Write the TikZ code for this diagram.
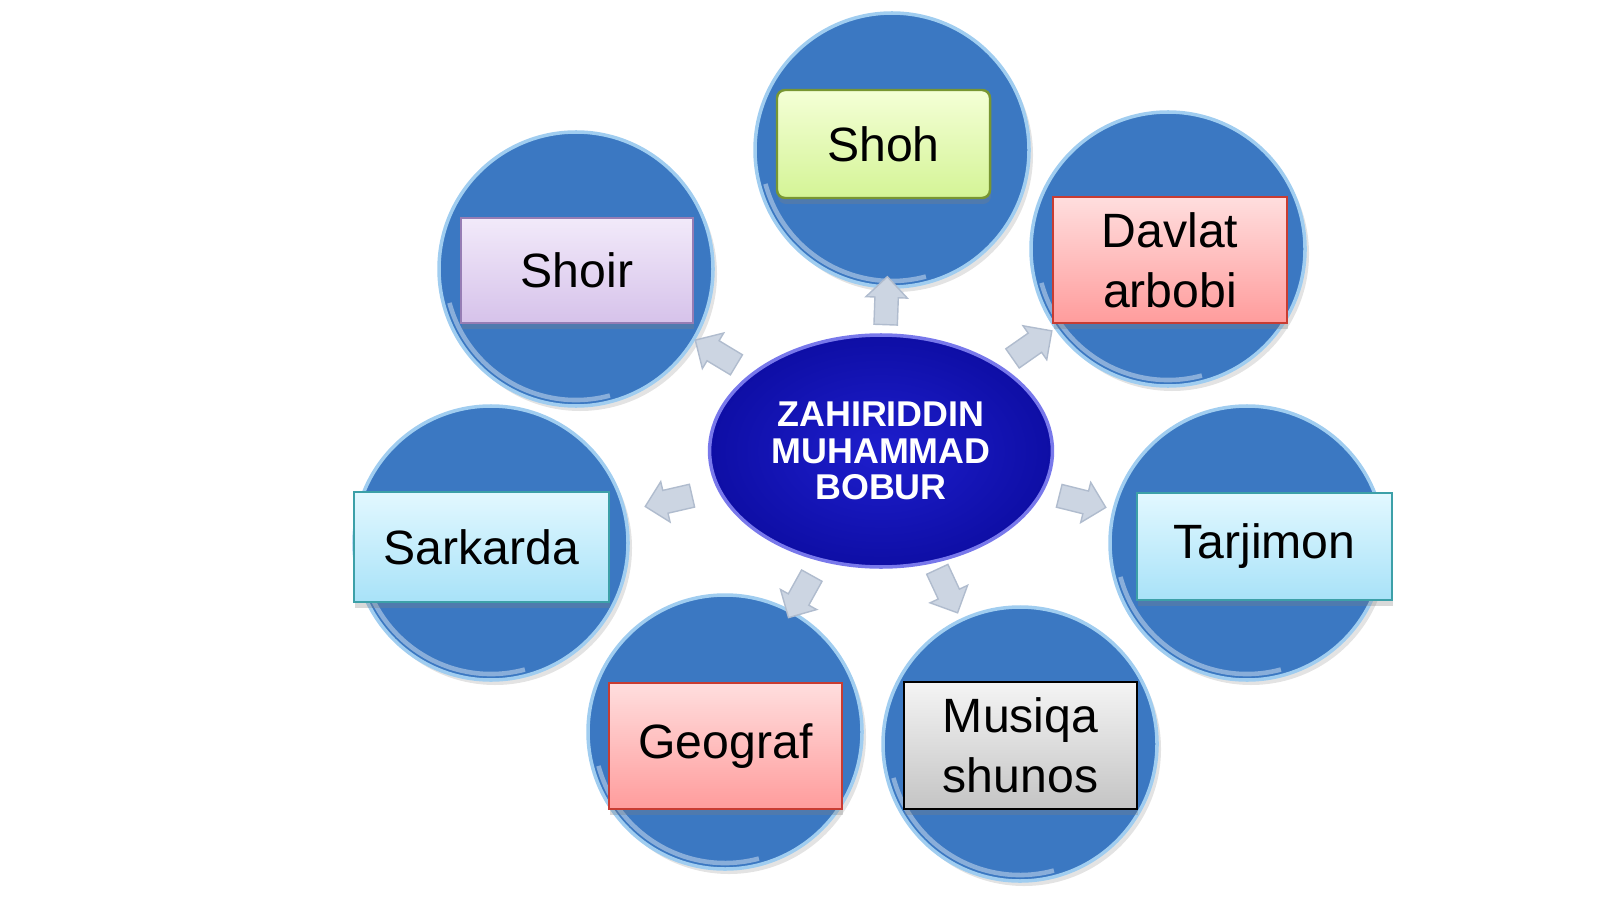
\documentclass[tikz,border=0pt]{standalone}
\usepackage{fontspec}
\setmainfont{Liberation Sans}
\usetikzlibrary{shapes.geometric,shapes.arrows,shadows,calc}

\definecolor{discblue}{RGB}{59,120,194}
\definecolor{discrim}{RGB}{160,205,240}
\definecolor{hubin}{RGB}{30,30,205}
\definecolor{hubout}{RGB}{14,14,165}
\definecolor{hubrim}{RGB}{120,120,235}
\definecolor{arrowgray}{RGB}{204,213,226}
\definecolor{arrowedge}{RGB}{176,188,206}

\tikzstyle{disc} = [circle, minimum size=2.74cm, fill=discblue, draw=discrim, line width=1pt, drop shadow={opacity=0.22, shadow xshift=0.04cm, shadow yshift=-0.05cm}]
\tikzstyle{tag} = [rectangle, inner sep=0pt, line width=0.7pt, text=black, align=center, font=\fontsize{13.7}{17}\selectfont, drop shadow={opacity=0.3, shadow xshift=0.01cm, shadow yshift=-0.06cm}]
\tikzstyle{greentag} = [tag, rounded corners=0.08cm, top color={rgb,255:red,244;green,255;blue,214}, bottom color={rgb,255:red,212;green,244;blue,150}, draw={rgb,255:red,120;green,150;blue,50}]
\tikzstyle{lilactag} = [tag, top color={rgb,255:red,242;green,234;blue,250}, bottom color={rgb,255:red,214;green,194;blue,234}, draw={rgb,255:red,150;green,125;blue,180}]
\tikzstyle{pinktag} = [tag, top color={rgb,255:red,255;green,222;blue,222}, bottom color={rgb,255:red,255;green,156;blue,156}, draw={rgb,255:red,200;green,60;blue,50}]
\tikzstyle{cyantag} = [tag, top color={rgb,255:red,226;green,248;blue,255}, bottom color={rgb,255:red,168;green,226;blue,248}, draw={rgb,255:red,60;green,160;blue,168}]
\tikzstyle{graytag} = [tag, top color={rgb,255:red,244;green,244;blue,244}, bottom color={rgb,255:red,196;green,196;blue,196}, draw=black]
\tikzstyle{hub} = [ellipse, minimum width=3.42cm, minimum height=2.32cm, inner color=hubin, outer color=hubout, draw=hubrim, line width=1pt, text=white, align=center, font=\bfseries\fontsize{10.2}{10.4}\selectfont]
\tikzstyle{pointer} = [single arrow, minimum height=0.48cm, inner sep=0.11cm, single arrow head extend=0.09cm, fill=arrowgray, draw=arrowedge, line width=0.4pt]

\begin{document}
\begin{tikzpicture}

        \useasboundingbox (0,0) rectangle (16,9);

        %% discs

        \node (shoh-disc) [disc] at (8.92,7.50) {};
        \node (davlat-disc) [disc] at (11.68,6.51) {};
        \node (tarjimon-disc) [disc] at (12.47,3.57) {};
        \node (musiqa-disc) [disc] at (10.20,1.56) {};
        \node (geograf-disc) [disc] at (7.25,1.68) {};
        \node (sarkarda-disc) [disc] at (4.91,3.57) {};
        \node (shoir-disc) [disc] at (5.76,6.31) {};

        \foreach \n in {shoh,davlat,tarjimon,musiqa,geograf,sarkarda,shoir}
            \draw[white, opacity=0.4, line width=1.3pt] ($(\n-disc.center)+(195:1.31)$) arc (195:285:1.31);

        %% labels

        \node (shoh) [greentag, minimum width=2.13cm, minimum height=1.08cm] at (8.835,7.56) {Shoh};
        \node (davlat) [pinktag, minimum width=2.34cm, minimum height=1.26cm] at (11.70,6.40) {Davlat\\arbobi};
        \node (tarjimon) [cyantag, minimum width=2.55cm, minimum height=1.07cm] at (12.645,3.535) {Tarjimon};
        \node (musiqa) [graytag, minimum width=2.33cm, minimum height=1.27cm] at (10.205,1.545) {Musiqa\\shunos};
        \node (geograf) [pinktag, minimum width=2.33cm, minimum height=1.26cm] at (7.255,1.54) {Geograf};
        \node (sarkarda) [cyantag, minimum width=2.55cm, minimum height=1.10cm] at (4.815,3.53) {Sarkarda};
        \node (shoir) [lilactag, minimum width=2.32cm, minimum height=1.05cm] at (5.77,6.295) {Shoir};

        %% centre

        \node (bobur) [hub] at (8.81,4.49) {ZAHIRIDDIN\\MUHAMMAD\\BOBUR};

        \foreach \n/\a/\f in {shoh/88/0.48, davlat/35/0.51, tarjimon/-14/0.535, musiqa/-65/0.46, geograf/-119/0.5, sarkarda/193/0.53, shoir/149/0.525}
            \node [pointer, rotate=\a] at ($(bobur)!\f!(\n-disc)$) {};

    \end{tikzpicture}
\end{document}
